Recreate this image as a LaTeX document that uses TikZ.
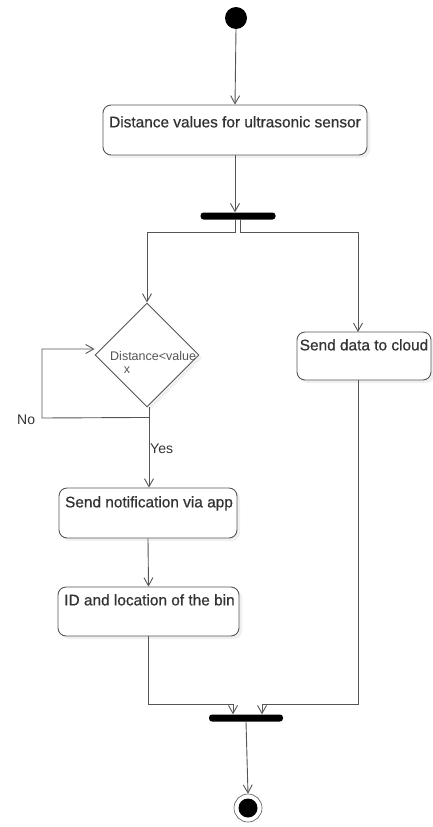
\documentclass[tikz,border=0pt]{standalone}
\usepackage{fontspec}
\setmainfont{Liberation Sans}
\newfontfamily\actfont[FakeBold=0.6]{Liberation Sans}
\usetikzlibrary{arrows.meta,shapes.geometric,shadows,calc}
\definecolor{ln}{HTML}{555555}
\definecolor{tx}{HTML}{333333}
\tikzset{
  act/.style={draw=ln, line width=0.9pt, rounded corners=8pt, fill=white,
    drop shadow={opacity=0.12, shadow xshift=3pt, shadow yshift=-3pt},
    inner sep=0pt},
  acttext/.style={text=tx, font=\actfont\fontsize{15.4}{18}\selectfont, inner sep=0pt, anchor=north},
  flow/.style={draw=ln, line width=0.9pt, -{Straight Barb[length=8pt,width=9pt,line width=0.9pt]}},
  seg/.style={draw=ln, line width=0.9pt},
  bar/.style={fill=black, rounded corners=3pt, inner sep=0pt},
  lbl/.style={text=tx, font=\fontsize{14}{16}\selectfont, inner sep=0pt},
  dtext/.style={text=ln, font=\fontsize{12.5}{13}\selectfont, inner sep=0pt},
}
\begin{document}
\begin{tikzpicture}[x=1pt,y=-1pt]
\useasboundingbox (0,0) rectangle (433,827);
% start
\node[circle, fill=black, minimum size=22pt, inner sep=0pt] (start) at (236,18) {};
% box 1
\node[act, minimum width=264pt, minimum height=50pt] (dist) at (235,130) {};
\node[acttext] (distt) at (235,116) {Distance values for ultrasonic sensor};
% fork
\node[bar, minimum width=75pt, minimum height=7pt] (fork) at (238,216) {};
% decision
\node[diamond, draw=ln, line width=0.9pt, fill=white, aspect=1, minimum width=104pt, minimum height=104pt, inner sep=0pt,
  drop shadow={opacity=0.12, shadow xshift=3pt, shadow yshift=-3pt}] (dec) at (147,355) {};
\node[dtext, anchor=west] (dect) at (110,356) {Distance<value};
\node[dtext] (decx) at (127,370) {x};
% cloud box
\node[act, minimum width=134pt, minimum height=48pt] (cloud) at (364,356) {};
\node[acttext] (cloudt) at (364,339) {Send data to cloud};
\coordinate (cin) at (358,332);
% notification box
\node[act, minimum width=178pt, minimum height=50pt] (notif) at (148,513) {};
\node[acttext] (notift) at (149,496) {Send notification via app};
% ID box
\node[act, minimum width=181pt, minimum height=49pt] (idb) at (148.5,611.5) {};
\node[acttext] (idbt) at (149.5,594) {ID and location of the bin};
% join
\node[bar, minimum width=74pt, minimum height=7pt] (join) at (246,718) {};
% end
\node[circle, draw=ln, line width=0.6pt, fill=white, minimum size=28pt, inner sep=0pt] (endo) at (248,808) {};
\node[circle, fill=black, minimum size=19pt, inner sep=0pt] (endi) at (endo.center) {};
% labels
\node[lbl, anchor=west] (no) at (17,420) {No};
\node[lbl, anchor=west] (yes) at (150,449) {Yes};
% connectors
\draw[flow] (start.south) -- (dist.north);
\draw[flow] (dist.south) -- (dist.south |- fork.north);
\draw[flow] ([xshift=-2.5pt]fork.south) -- ++(0,13) -| (dec.north);
\draw[flow] ([xshift=2.5pt]fork.south) -- ++(0,13) -| (cin);
\draw[flow] ([xshift=2pt]dec.south) -- ([xshift=1pt]notif.north);
\draw[flow] ($(dec.south)+(2pt,10)$) -- (42,418) |- ([yshift=6pt]dec.west);
\draw[flow] (notif.south) -- (idb.south |- idb.north);
\coordinate (jl) at (233,704);
\coordinate (jr) at (262,704);
\draw[seg] (idb.south -| notif.south) |- (jl);
\draw[flow] (jl) -- (jl |- join.north);
\draw[seg] (cloud.south -| cin) |- (jr);
\draw[flow] (jr) -- (jr |- join.north);
\draw[flow] (join.south) -- (endo.north);
\end{tikzpicture}
\end{document}
